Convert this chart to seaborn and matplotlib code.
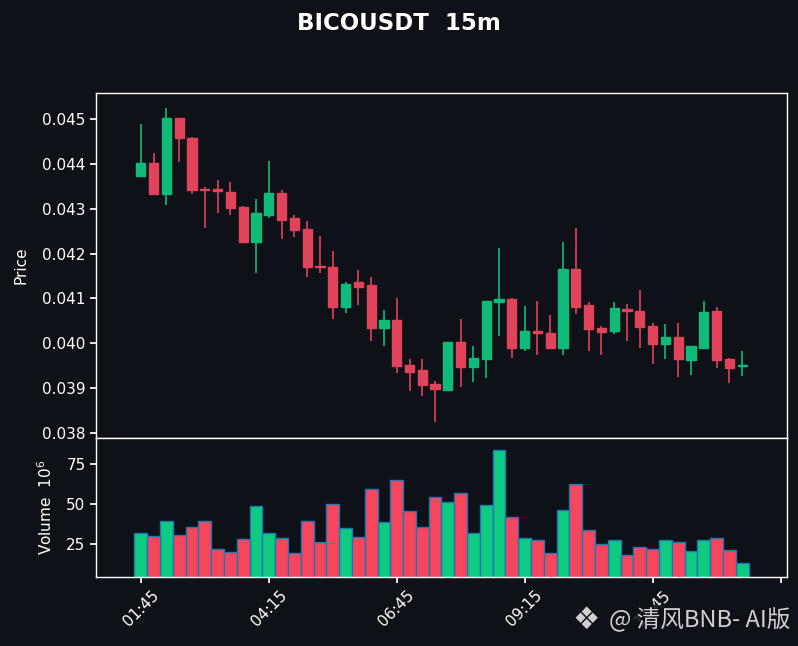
import numpy as np
import pandas as pd
import seaborn as sns
import matplotlib
matplotlib.use("Agg")
import matplotlib.pyplot as plt

# 15m candles, BICOUSDT
opens = [0.04373, 0.04402, 0.04332, 0.04502, 0.04458, 0.04344, 0.04344, 0.04338,
         0.04303, 0.04225, 0.04285, 0.04335, 0.04279, 0.04254, 0.04172, 0.04171,
         0.04080, 0.04136, 0.04129, 0.04035, 0.04053, 0.03952, 0.03941, 0.03910,
         0.03896, 0.04004, 0.03948, 0.03966, 0.04093, 0.04098, 0.03990, 0.04028,
         0.04024, 0.03990, 0.04165, 0.04086, 0.04035, 0.04028, 0.04077, 0.04073,
         0.04039, 0.03999, 0.04015, 0.03963, 0.03990, 0.04071, 0.03966, 0.03949]
highs = [0.04490, 0.04425, 0.04525, 0.04502, 0.04460, 0.04348, 0.04364, 0.04360,
         0.04306, 0.04322, 0.04407, 0.04342, 0.04285, 0.04273, 0.04239, 0.04206,
         0.04136, 0.04163, 0.04148, 0.04074, 0.04101, 0.03966, 0.03966, 0.03917,
         0.04002, 0.04054, 0.03993, 0.04095, 0.04212, 0.04100, 0.04083, 0.04094,
         0.04063, 0.04225, 0.04257, 0.04092, 0.04038, 0.04092, 0.04087, 0.04118,
         0.04045, 0.04042, 0.04045, 0.03994, 0.04094, 0.04080, 0.03968, 0.03984]
lows = [0.04372, 0.04332, 0.04309, 0.04405, 0.04332, 0.04258, 0.04291, 0.04285,
        0.04225, 0.04157, 0.04280, 0.04233, 0.04238, 0.04148, 0.04157, 0.04054,
        0.04068, 0.04085, 0.04005, 0.03993, 0.03934, 0.03893, 0.03882, 0.03824,
        0.03893, 0.03902, 0.03914, 0.03923, 0.04016, 0.03967, 0.03983, 0.03974,
        0.03988, 0.03974, 0.04065, 0.03984, 0.03973, 0.04021, 0.04005, 0.03990,
        0.03954, 0.03965, 0.03925, 0.03929, 0.03990, 0.03945, 0.03911, 0.03927]
closes = [0.04402, 0.04332, 0.04502, 0.04458, 0.04342, 0.04342, 0.04339, 0.04301,
          0.04225, 0.04290, 0.04335, 0.04276, 0.04252, 0.04171, 0.04171, 0.04080,
          0.04133, 0.04126, 0.04035, 0.04051, 0.03950, 0.03937, 0.03908, 0.03899,
          0.04002, 0.03948, 0.03968, 0.04095, 0.04098, 0.03990, 0.04028, 0.04024,
          0.03990, 0.04165, 0.04081, 0.04032, 0.04026, 0.04078, 0.04071, 0.04037,
          0.03999, 0.04015, 0.03964, 0.03994, 0.04069, 0.03963, 0.03946, 0.03952]
volumes = [32.2, 30.3, 39.8, 30.9, 36.0, 39.2, 22.0, 20.1, 28.4, 48.7, 32.2, 29.0,
           19.5, 39.2, 26.5, 50.0, 35.4, 29.7, 59.5, 38.6, 65.3, 45.6, 36.0, 54.4,
           51.3, 57.0, 32.2, 49.4, 83.7, 41.7, 29.0, 27.8, 19.5, 46.2, 62.7, 34.1,
           25.2, 27.8, 18.2, 23.3, 22.0, 27.8, 26.5, 20.8, 27.8, 29.0, 21.4, 13.1]
tick_labels = ["01:45", "04:15", "06:45", "09:15", "11:45", ""]

BG = "#0e1117"
UP = "#0ecb81"
DOWN = "#f6465d"
UP_C = "#10bb79"
DOWN_C = "#e1435a"

sns.set_theme(style="dark", rc={
    "figure.facecolor": BG, "axes.facecolor": BG, "axes.edgecolor": "white",
    "axes.labelcolor": "white", "text.color": "white",
    "xtick.color": "white", "ytick.color": "white",
    "xtick.bottom": True, "ytick.left": True,
    "axes.linewidth": 1.0,
})
plt.rcParams["font.family"] = ["DejaVu Sans", "Noto Sans CJK SC"]

df = pd.DataFrame({"o": opens, "h": highs, "l": lows, "c": closes, "v": volumes})
df["idx"] = np.arange(len(df))
df["dir"] = np.where(df["c"] >= df["o"], "up", "down")

fig = plt.figure(figsize=(7.98, 6.46), dpi=100)
axp = fig.add_axes([0.1203, 0.322, 0.8659, 0.534])
axv = fig.add_axes([0.1203, 0.1068, 0.8659, 0.2152], sharex=axp)

# candles
wick_col = np.where(df["dir"] == "up", UP_C, DOWN_C)
axp.vlines(df["idx"], df["l"], df["h"], colors=wick_col, linewidth=1.2, zorder=2)
body_lo = np.minimum(df["o"], df["c"])
body_h = np.maximum(np.abs(df["c"] - df["o"]), 0.000004)
axp.bar(df["idx"], body_h, bottom=body_lo, width=0.72, color=wick_col,
        edgecolor=wick_col, linewidth=1.0, zorder=3)
axp.set_ylim(0.03789, 0.04558)
axp.set_yticks([0.038, 0.039, 0.040, 0.041, 0.042, 0.043, 0.044, 0.045])
axp.yaxis.set_major_formatter(matplotlib.ticker.FormatStrFormatter("%.3f"))
axp.set_ylabel("Price", fontsize=11, labelpad=10)
axp.tick_params(axis="y", labelsize=11, length=4)
axp.tick_params(axis="x", bottom=False, labelbottom=False)

# volume
sns.barplot(data=df, x="idx", y="v", hue="dir", palette={"up": UP, "down": DOWN},
            native_scale=True, dodge=False, width=1.0, saturation=1,
            edgecolor="#1f77b4", linewidth=1.0, errorbar=None, legend=False, ax=axv)
axv.set_ylim(4.4, 91.5)
axv.set_yticks([25, 50, 75])
axv.set_ylabel("Volume  $10^{6}$", fontsize=11, labelpad=8)
axv.set_xlabel("")
axv.set_xticks(np.arange(0, 51, 10))
axv.set_xticklabels(tick_labels, rotation=45, ha="center")
axv.tick_params(axis="both", labelsize=11, length=4)
axv.set_xlim(-3.5, 50.5)

for ax in (axp, axv):
    ax.grid(False)
    for s in ax.spines.values():
        s.set_color("white")

fig.suptitle("BICOUSDT  15m", fontsize=16.5, fontweight="bold", color="white", y=0.982)

fig.text(0.99, 0.04, "@ 清风BNB- AI版", ha="right", va="center", fontsize=17,
         color="#d0d0d0", family=["Noto Sans CJK SC", "DejaVu Sans"],
         bbox=dict(facecolor=BG, edgecolor="none", alpha=0.85, pad=2))
fig.text(0.735, 0.04, "❖", ha="center", va="center", fontsize=22,
         color="#d0d0d0", family=["DejaVu Sans"])

fig.savefig("out.png", dpi=100, facecolor=BG)
